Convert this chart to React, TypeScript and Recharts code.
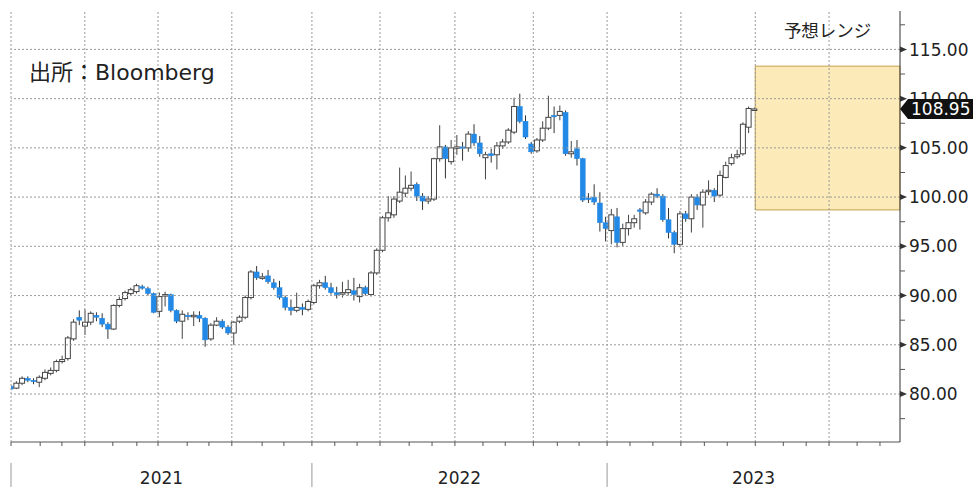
import React from 'react';
import { ComposedChart, Bar, XAxis, YAxis, ReferenceLine, ReferenceArea } from 'recharts';

// Weekly OHLC (2021-01 .. 2023-06), index = week number
const opens = [
  80.8, 80.6, 81.1, 81.6, 81.4, 81.2, 81.6, 82.1, 82.4, 83.3, 83.6, 85.6, 87.8, 86.9, 87.3, 88.0, 87.7, 87.1, 86.6, 89.0,
  89.7, 90.2, 90.4, 90.9, 90.7, 90.2, 88.4, 90.0, 90.1, 88.5, 87.4, 88.0, 87.9, 88.0, 87.7, 85.6, 87.0, 87.4, 86.8, 86.2,
  87.4, 87.8, 89.8, 92.4, 91.8, 92.0, 91.3, 90.8, 89.8, 88.8, 88.5, 88.8, 88.6, 89.3, 91.0, 91.3, 90.8, 90.3, 90.2, 90.3,
  90.5, 89.9, 90.8, 90.1, 92.3, 94.6, 97.9, 98.2, 99.6, 100.4, 100.9, 101.3, 100.1, 99.6, 99.8, 103.9, 105.1, 103.6, 105.0, 105.1,
  105.0, 106.4, 105.5, 104.0, 104.4, 104.3, 105.2, 105.6, 106.6, 109.2, 107.7, 105.4, 104.7, 105.8, 107.0, 108.3, 108.3, 108.6, 104.4, 104.9,
  103.9, 99.9, 100.0, 99.4, 97.4, 96.6, 98.0, 95.4, 96.8, 97.4, 98.7, 98.4, 99.5, 100.3, 100.1, 97.7, 96.4, 95.2, 98.3, 97.8,
  100.0, 99.2, 100.6, 100.7, 100.2, 102.0, 103.4, 104.1, 104.4, 107.1, 108.9,
];
const highs = [
  81.0, 81.3, 81.8, 81.8, 81.6, 81.9, 82.5, 82.7, 83.5, 83.9, 85.9, 87.6, 88.5, 88.6, 88.4, 88.3, 88.2, 87.3, 89.1, 89.9,
  90.5, 90.8, 91.2, 91.1, 90.9, 90.3, 90.3, 90.4, 90.2, 88.6, 88.5, 88.3, 88.4, 88.4, 87.8, 87.2, 87.8, 87.6, 87.0, 87.4,
  88.0, 90.0, 92.6, 93.0, 92.3, 92.6, 91.7, 91.5, 90.0, 89.6, 90.3, 89.2, 89.6, 91.2, 91.6, 92.0, 91.3, 90.9, 91.4, 91.6,
  91.8, 91.2, 91.0, 92.5, 94.8, 98.1, 100.1, 100.1, 103.0, 102.2, 102.6, 101.5, 100.4, 100.1, 104.0, 107.3, 105.3, 105.8, 106.3, 105.6,
  106.7, 107.4, 106.2, 104.6, 104.9, 105.6, 105.9, 107.0, 110.1, 110.5, 108.3, 105.6, 106.0, 107.7, 110.3, 109.2, 109.3, 108.8, 105.7, 105.8,
  104.0, 100.4, 101.3, 100.5, 98.0, 98.8, 98.9, 97.3, 98.2, 98.2, 98.9, 99.8, 100.5, 100.9, 100.3, 98.9, 96.6, 98.6, 98.6, 100.3,
  100.3, 100.8, 101.7, 100.9, 102.7, 103.6, 104.4, 104.8, 107.6, 109.2, 109.1,
];
const lows = [
  80.3, 80.5, 80.9, 81.2, 81.0, 80.7, 81.4, 81.9, 82.2, 83.1, 83.4, 85.4, 87.0, 86.0, 87.0, 87.4, 86.8, 85.6, 86.5, 88.8,
  89.5, 90.0, 90.2, 90.6, 90.0, 88.2, 87.8, 88.9, 88.3, 87.2, 85.6, 87.5, 86.9, 87.3, 84.8, 85.4, 86.9, 86.6, 86.0, 85.0,
  87.2, 87.6, 89.6, 91.6, 91.6, 91.2, 90.6, 89.6, 88.5, 88.0, 88.3, 88.0, 88.4, 89.1, 90.7, 90.6, 90.1, 89.7, 89.8, 90.0,
  89.5, 89.3, 90.0, 89.9, 92.1, 94.4, 97.5, 97.9, 99.4, 100.0, 100.6, 99.6, 98.7, 99.3, 99.6, 103.6, 101.9, 103.3, 104.3, 103.7,
  104.6, 105.2, 104.1, 101.8, 103.5, 102.8, 104.9, 105.4, 106.4, 107.5, 105.9, 104.4, 104.5, 105.6, 106.8, 106.5, 107.8, 104.2, 104.0, 103.2,
  99.5, 99.4, 99.2, 96.5, 95.5, 95.2, 94.9, 95.0, 96.1, 96.9, 96.7, 98.2, 99.2, 99.9, 97.5, 95.8, 94.3, 94.9, 97.5, 96.4,
  98.7, 96.9, 100.2, 99.5, 100.0, 101.9, 103.2, 103.9, 104.2, 106.5, 108.8,
];
const closes = [
  80.5, 81.1, 81.6, 81.4, 81.3, 81.7, 82.2, 82.4, 83.3, 83.5, 85.7, 87.3, 87.5, 87.3, 88.2, 87.8, 87.1, 86.6, 89.0, 89.6,
  90.3, 90.6, 91.0, 90.8, 90.2, 88.3, 89.9, 90.1, 88.5, 87.4, 88.1, 87.9, 88.0, 87.7, 85.5, 87.0, 87.4, 86.8, 86.2, 87.3,
  87.8, 89.8, 92.4, 91.8, 91.9, 91.4, 90.8, 89.8, 88.8, 88.5, 88.8, 88.6, 89.4, 91.0, 91.3, 90.8, 90.3, 90.1, 90.3, 90.6,
  90.1, 90.8, 90.2, 92.3, 94.6, 97.9, 98.4, 99.8, 100.5, 100.9, 101.2, 100.1, 99.6, 99.8, 103.9, 105.1, 103.9, 105.0, 105.1, 105.0,
  106.4, 105.5, 104.4, 104.3, 104.2, 105.2, 105.6, 106.8, 109.2, 107.7, 106.1, 104.6, 105.8, 107.0, 108.1, 108.2, 108.7, 104.4, 104.6, 103.9,
  99.7, 99.8, 99.5, 97.4, 96.8, 98.2, 95.4, 96.8, 97.4, 97.8, 98.6, 99.5, 100.3, 100.1, 97.7, 96.4, 95.2, 98.3, 97.8, 100.0,
  99.2, 100.5, 100.7, 100.1, 102.2, 103.2, 104.0, 104.3, 107.4, 109.0, 108.95,
];

// Axis positions (in weeks from the first bar)
const monthTicks = [
  0, 5.1, 8.9, 12.9, 17.8, 22.0, 25.7, 30.8, 34.6, 38.6, 43.9, 47.7,
  52.6, 56.6, 60.5, 64.5, 69.6, 73.6, 77.6, 82.5, 86.4, 91.3, 95.5, 99.3,
  104.2, 108.2, 112.2, 117.1, 121.2, 125.2, 130.1, 135.0, 139.0, 143.0, 147.9, 151.9,
];
const quarterLines = [0, 12.9, 25.7, 38.6, 52.6, 64.5, 77.6, 91.3, 104.2, 117.1, 130.1, 143.0];
const yearStarts = [0, 52.6, 104.2];
const yearLabels = ['2021', '2022', '2023'];
const xEnd = 155.4;
const yearMids = yearStarts.map((s, i) => Math.round(((s + (yearStarts[i + 1] ?? xEnd)) / 2) * 100) / 100);

const priceMajor = [80, 85, 90, 95, 100, 105, 110, 115];
const priceTicks = [77.5, 80, 82.5, 85, 87.5, 90, 92.5, 95, 97.5, 100, 102.5, 105, 107.5, 110, 112.5, 115, 117.5];
const yDomain = [75.13, 118.9];

const lastPrice = 108.95;
const rangeStart = 130.1;
const rangeLow = 98.7;
const rangeHigh = 113.3;
const rangeTitle = '予想レンジ';
const sourceText = '出所：Bloomberg';

const data = closes.map((c, i) => ({
  t: i,
  open: opens[i],
  high: highs[i],
  low: lows[i],
  close: c,
}));

const TICK_FONT = "'DejaVu Sans', 'Noto Sans CJK JP', sans-serif";
const BLUE = '#2389e6';

const Candle = (props: any) => {
  const { x, y, width, height } = props;
  const p = props.payload ?? props;
  const { open, close, high, low } = p;
  const top = Math.min(y, y + height);
  const h = Math.abs(height);
  const span = high - low || 1;
  const py = (v: number) => top + ((high - v) / span) * h;
  const cx = x + width / 2;
  const up = close >= open;
  const bTop = py(Math.max(open, close));
  const bBot = py(Math.min(open, close));
  const bh = Math.max(bBot - bTop, 1.5);
  return (
    <g>
      <line x1={cx} x2={cx} y1={top} y2={top + h} stroke={up ? '#444' : '#333'} strokeWidth={1} />
      <rect
        x={x}
        y={bTop}
        width={width}
        height={bh}
        fill={up ? '#ffffff' : BLUE}
        stroke={up ? '#444' : BLUE}
        strokeWidth={up ? 1 : 0.5}
      />
    </g>
  );
};

const XTick = (props: any) => {
  const { x, y, payload } = props;
  const v = payload.value;
  const yi = yearMids.indexOf(v);
  if (yi >= 0) {
    return (
      <text x={x} y={y + 42} textAnchor="middle" fontFamily={TICK_FONT} fontSize={17} fill="#222">
        {yearLabels[yi]}
      </text>
    );
  }
  const isStart = yearStarts.includes(v);
  return (
    <g>
      <line x1={x} x2={x} y1={y} y2={y + 4} stroke="#555" strokeWidth={1} />
      {isStart && <line x1={x} x2={x} y1={y + 21} y2={y + 45} stroke="#999" strokeWidth={1} />}
    </g>
  );
};

const YTick = (props: any) => {
  const { x, y, payload } = props;
  const v = payload.value;
  if (v === lastPrice) {
    // last-price tag, rendered last so it covers the 110.00 label
    return (
      <g>
        <path
          d={`M${x},${y} L${x + 8},${y - 10} L${x + 73},${y - 10} L${x + 73},${y + 10} L${x + 8},${y + 10} Z`}
          fill="#111"
        />
        <text x={x + 11} y={y} dy="0.36em" fontFamily={TICK_FONT} fontSize={17} fill="#fff">
          {lastPrice.toFixed(2)}
        </text>
      </g>
    );
  }
  const major = priceMajor.includes(v);
  if (!major) {
    return <line x1={x} x2={x + 5} y1={y} y2={y} stroke="#555" strokeWidth={1} />;
  }
  return (
    <g>
      <path d={`M${x},${y - 3} L${x + 7},${y} L${x},${y + 3} Z`} fill="#333" />
      <text x={x + 9} y={y} dy="0.36em" textAnchor="start" fontFamily={TICK_FONT} fontSize={17} fill="#222">
        {v.toFixed(2)}
      </text>
    </g>
  );
};

const RangeTitle = (props: any) => {
  const vb = props.viewBox || {};
  return (
    <text
      x={(vb.x ?? 0) + (vb.width ?? 0) / 2}
      y={(vb.y ?? 0) - 29}
      textAnchor="middle"
      fontFamily={TICK_FONT}
      fontSize={17.5}
      fill="#222"
    >
      {rangeTitle}
    </text>
  );
};

export default function App() {
  return (
    <div style={{ position: 'absolute', left: 0, top: 0, width: 973, height: 487, background: '#fff' }}>
      <ComposedChart width={973} height={487} data={data} margin={{ top: 11, right: 0, bottom: 0, left: 11 }}>
        <XAxis
          dataKey="t"
          type="number"
          domain={[0, xEnd]}
          allowDataOverflow
          ticks={[...monthTicks, ...yearMids]}
          interval={0}
          tickLine={false}
          tickSize={0}
          tickMargin={0}
          axisLine={{ stroke: '#555' }}
          height={45}
          tick={(p: any) => <XTick {...p} />}
        />
        <YAxis
          orientation="right"
          type="number"
          domain={yDomain}
          allowDataOverflow
          ticks={[...priceTicks, lastPrice]}
          interval={0}
          tickLine={false}
          tickSize={0}
          tickMargin={0}
          axisLine={{ stroke: '#333' }}
          width={73}
          tick={(p: any) => <YTick {...p} />}
        />
        <ReferenceArea
          x1={rangeStart}
          x2={xEnd}
          y1={rangeLow}
          y2={rangeHigh}
          fill="#fcd980"
          fillOpacity={0.55}
          stroke="#c4a04a"
          strokeWidth={1}
          label={(p: any) => <RangeTitle {...p} />}
        />
        {quarterLines.map((q) => (
          <ReferenceLine key={'q' + q} x={q} stroke="#9a9a9a" strokeDasharray="2 2" />
        ))}
        {priceMajor.map((v) => (
          <ReferenceLine key={'p' + v} y={v} stroke="#9a9a9a" strokeDasharray="2 2" />
        ))}
        <Bar
          dataKey={(d: any) => [d.low, d.high]}
          barSize={5}
          isAnimationActive={false}
          shape={(p: any) => <Candle {...p} />}
        />
      </ComposedChart>
      <div
        style={{
          position: 'absolute',
          left: 29,
          top: 62,
          fontFamily: TICK_FONT,
          fontSize: 22,
          lineHeight: '22px',
          color: '#222',
          whiteSpace: 'nowrap',
        }}
      >
        {sourceText}
      </div>
    </div>
  );
}
